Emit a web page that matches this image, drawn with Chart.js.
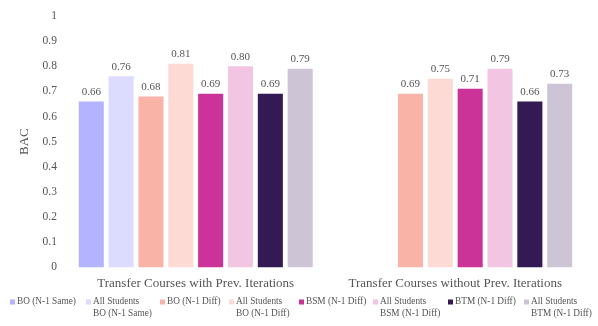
<!DOCTYPE html>
<html><head><meta charset="utf-8">
<script src="https://cdn.jsdelivr.net/npm/chart.js@4/dist/chart.umd.min.js"></script>
<style>html,body{margin:0;padding:0;background:#fff}#wrap{width:598px;height:326px;position:relative}</style>
</head><body><div id="wrap"><canvas id="c"></canvas></div>
<script>
const categories = ["Transfer Courses with Prev. Iterations", "Transfer Courses without Prev. Iterations"];
const seriesNames = [
  ["BO (N-1 Same)"],
  ["All Students", "BO (N-1 Same)"],
  ["BO (N-1 Diff)"],
  ["All Students", "BO (N-1 Diff)"],
  ["BSM (N-1 Diff)"],
  ["All Students", "BSM (N-1 Diff)"],
  ["BTM (N-1 Diff)"],
  ["All Students", "BTM (N-1 Diff)"]
];
const boSame      = [0.66, null];
const allBoSame   = [0.76, null];
const boDiff      = [0.68, 0.69];
const allBoDiff   = [0.81, 0.75];
const bsmDiff     = [0.69, 0.71];
const allBsmDiff  = [0.80, 0.79];
const btmDiff     = [0.69, 0.66];
const allBtmDiff  = [0.79, 0.73];
const yTicks = [0, 0.1, 0.2, 0.3, 0.4, 0.5, 0.6, 0.7, 0.8, 0.9, 1];
const yTickLabels = ["0", "0.1", "0.2", "0.3", "0.4", "0.5", "0.6", "0.7", "0.8", "0.9", "1"];

const seriesValues = [boSame, allBoSame, boDiff, allBoDiff, bsmDiff, allBsmDiff, btmDiff, allBtmDiff];
const colors = ["#b3b3ff", "#dcdcff", "#f9b3a7", "#fddbd4", "#cc3399", "#f2c6e3", "#331a55", "#cdc5d6"];
const FONT = "'Liberation Serif', 'DejaVu Serif', serif";
const TXT = "#555555";

const datasets = seriesValues.map((v, i) => ({
  label: seriesNames[i].join(" "),
  data: v,
  backgroundColor: colors[i],
  borderWidth: 0
}));

const valueLabels = {
  id: "valueLabels",
  afterDatasetsDraw(chart) {
    const ctx = chart.ctx;
    ctx.save();
    ctx.font = "11px " + FONT;
    ctx.fillStyle = TXT;
    ctx.textAlign = "center";
    ctx.textBaseline = "bottom";
    chart.data.datasets.forEach((ds, di) => {
      const meta = chart.getDatasetMeta(di);
      meta.data.forEach((bar, i) => {
        const v = ds.data[i];
        if (v === null || v === undefined) return;
        ctx.fillText(v.toFixed(2), bar.x, bar.y - 4);
      });
    });
    ctx.restore();
  }
};

const customLegend = {
  id: "customLegend",
  afterDraw(chart) {
    const ctx = chart.ctx;
    ctx.save();
    ctx.font = "9.3px " + FONT;
    ctx.textBaseline = "middle";
    ctx.textAlign = "left";
    const xs = [10, 86, 160, 229, 299, 373, 448, 524];
    const y0 = 302, lh = 11.5;
    seriesNames.forEach((lines, i) => {
      ctx.fillStyle = colors[i];
      ctx.fillRect(xs[i], y0 - 2.5, 5, 5);
      ctx.fillStyle = TXT;
      lines.forEach((t, k) => ctx.fillText(t, xs[i] + 7, y0 + k * lh));
    });
    ctx.restore();
  }
};

new Chart(document.getElementById("c"), {
  type: "bar",
  data: { labels: categories, datasets },
  options: {
    responsive: true,
    maintainAspectRatio: false,
    animation: false,
    layout: { padding: { top: 8, right: 13, bottom: 27, left: 11 } },
    datasets: { bar: { categoryPercentage: 0.92, barPercentage: 0.84 } },
    plugins: { legend: { display: false }, tooltip: { enabled: false } },
    scales: {
      x: {
        grid: { display: false, drawTicks: false },
        border: { display: false },
        ticks: { color: TXT, font: { family: FONT, size: 13 }, padding: 8 }
      },
      y: {
        min: 0, max: 1,
        afterBuildTicks(axis) { axis.ticks = yTicks.map(v => ({ value: v })); },
        grid: { display: false, drawTicks: false },
        border: { display: false },
        ticks: {
          color: TXT, font: { family: FONT, size: 11.5 }, padding: 9,
          callback: (v, i) => yTickLabels[i]
        },
        title: { display: true, text: "BAC", color: TXT, font: { family: FONT, size: 13 }, padding: { top: 6, bottom: 1 } }
      }
    }
  },
  plugins: [valueLabels, customLegend]
});
</script></body></html>
